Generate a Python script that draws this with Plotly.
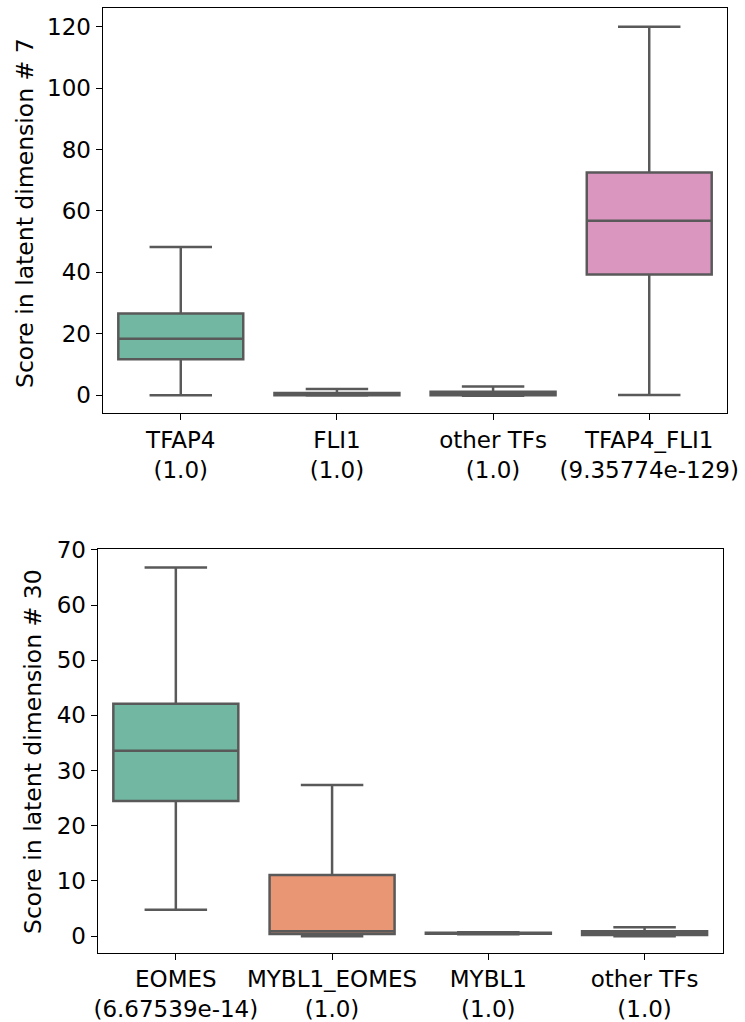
import plotly.graph_objects as go

# ---- data ----
top_categories = ["TFAP4", "FLI1", "other TFs", "TFAP4_FLI1"]
top_pvalues = ["1.0", "1.0", "1.0", "9.35774e-129"]
top_lower = [0.0, -0.1, -0.2, 0.1]
top_q1 = [11.7, 0.0, 0.0, 39.3]
top_median = [18.4, 0.3, 0.5, 56.8]
top_q3 = [26.6, 0.7, 1.1, 72.5]
top_upper = [48.3, 2.0, 2.8, 120.0]

bottom_categories = ["EOMES", "MYBL1_EOMES", "MYBL1", "other TFs"]
bottom_pvalues = ["6.67539e-14", "1.0", "1.0", "1.0"]
bottom_lower = [4.8, 0.0, 0.35, 0.0]
bottom_q1 = [24.5, 0.4, 0.45, 0.2]
bottom_median = [33.6, 0.9, 0.5, 0.6]
bottom_q3 = [42.1, 11.1, 0.6, 0.9]
bottom_upper = [66.8, 27.4, 0.7, 1.6]

top_colors = ["#71b7a1", "#e99675", "#95a3c3", "#db96c0"]
bottom_colors = ["#71b7a1", "#e99675", "#95a3c3", "#db96c0"]

LINE = "#595959"
FONT = "DejaVu Sans"
FS = 23

fig = go.Figure()


def labels(cats, pvals):
    return [f"{c}<br>({p})" for c, p in zip(cats, pvals)]


top_labels = labels(top_categories, top_pvalues)
bottom_labels = labels(bottom_categories, bottom_pvalues)

for i, lab in enumerate(top_labels):
    fig.add_trace(go.Box(
        x=[lab], q1=[top_q1[i]], median=[top_median[i]], q3=[top_q3[i]],
        lowerfence=[top_lower[i]], upperfence=[top_upper[i]],
        fillcolor=top_colors[i], line=dict(color=LINE, width=2.5),
        width=0.8, whiskerwidth=0.5, boxpoints=False,
        xaxis="x", yaxis="y", showlegend=False, hoverinfo="skip"))

for i, lab in enumerate(bottom_labels):
    fig.add_trace(go.Box(
        x=[lab], q1=[bottom_q1[i]], median=[bottom_median[i]], q3=[bottom_q3[i]],
        lowerfence=[bottom_lower[i]], upperfence=[bottom_upper[i]],
        fillcolor=bottom_colors[i], line=dict(color=LINE, width=2.5),
        width=0.8, whiskerwidth=0.5, boxpoints=False,
        xaxis="x2", yaxis="y2", showlegend=False, hoverinfo="skip"))

W, H = 745, 1022

axis_common = dict(showline=True, linecolor="black", linewidth=1.3, mirror=True,
                   ticks="outside", ticklen=6, tickwidth=1.3, tickcolor="black",
                   showgrid=False, zeroline=False, automargin=False,
                   tickfont=dict(family=FONT, size=FS, color="black"))

fig.update_layout(
    width=W, height=H,
    margin=dict(l=0, r=0, t=0, b=0),
    paper_bgcolor="white", plot_bgcolor="white",
    font=dict(family=FONT, size=FS, color="black"),
    xaxis=dict(domain=[102.7 / W, 727.3 / W], anchor="y", type="category",
               categoryorder="array", categoryarray=top_labels,
               range=[-0.5, 3.5], tickangle=0, **axis_common),
    yaxis=dict(domain=[1 - 413.3 / H, 1 - 8 / H], anchor="x",
               range=[-5.9, 126.1], tickvals=[0, 20, 40, 60, 80, 100, 120],
               **axis_common),
    xaxis2=dict(domain=[97.7 / W, 722.7 / W], anchor="y2", type="category",
                categoryorder="array", categoryarray=bottom_labels,
                range=[-0.5, 3.5], tickangle=0, **axis_common),
    yaxis2=dict(domain=[1 - 952.7 / H, 1 - 549.3 / H], anchor="x2",
                range=[-3.0, 70.1], tickvals=[0, 10, 20, 30, 40, 50, 60, 70],
                **axis_common),
    annotations=[
        dict(text="Score in latent dimension # 7", textangle=-90,
             xref="paper", yref="paper", x=25 / W, y=1 - 213 / H,
             showarrow=False, xanchor="center", yanchor="middle",
             font=dict(family=FONT, size=23.5, color="black")),
        dict(text="Score in latent dimension # 30", textangle=-90,
             xref="paper", yref="paper", x=33 / W, y=1 - 752 / H,
             showarrow=False, xanchor="center", yanchor="middle",
             font=dict(family=FONT, size=23.5, color="black")),
    ],
)

fig.write_html("out.html")
